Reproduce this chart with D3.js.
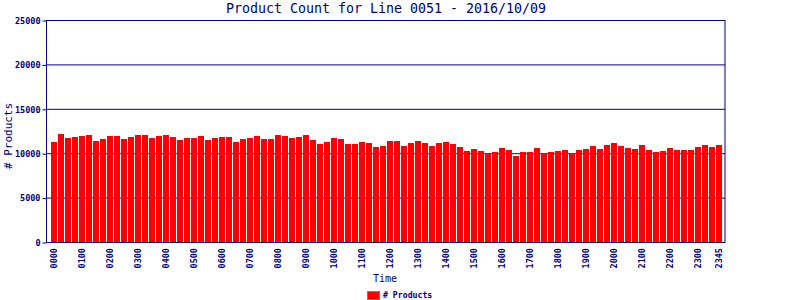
<!DOCTYPE html>
<html>
<head>
<meta charset="utf-8">
<script src="https://cdn.jsdelivr.net/npm/d3@7"></script>
<style>
  body { margin: 0; background: #fff; }
  text { font-family: "DejaVu Sans Mono", monospace; fill: #000080; }
</style>
</head>
<body>
<svg id="chart" width="800" height="300"></svg>
<script>
// product counts per 15 minute slot, 0000 .. 2345
var counts = [
  11260, 12160, 11710, 11820, 11940, 12050, 11370, 11600,
  11940, 11940, 11600, 11820, 12050, 12050, 11710, 11940,
  12050, 11820, 11490, 11710, 11710, 11940, 11490, 11710,
  11820, 11820, 11260, 11600, 11710, 11940, 11600, 11600,
  12050, 11940, 11710, 11820, 12050, 11490, 11040, 11260,
  11710, 11600, 11040, 11040, 11260, 11150, 10700, 10810,
  11370, 11370, 10810, 11150, 11370, 11150, 10810, 11150,
  11260, 11040, 10700, 10250, 10470, 10250, 10020, 10140,
  10590, 10360, 9690, 10140, 10140, 10590, 10020, 10140,
  10250, 10360, 10020, 10360, 10470, 10810, 10470, 10920,
  11150, 10810, 10590, 10470, 10920, 10360, 10140, 10250,
  10590, 10360, 10360, 10360, 10700, 10920, 10700, 10920
];
var times = counts.map(function(d, i) {
    var h = Math.floor(i / 4), m = (i % 4) * 15;
    return d3.format("02")(h) + d3.format("02")(m);
});
var labelTimes = times.filter(function(t, i) { return i % 4 == 0 || i == times.length - 1; });
var yTicks = [0, 5000, 10000, 15000, 20000, 25000];

var navy = "#000080";
var svg = d3.select("#chart");
var plotL = 47, plotR = 725, plotT = 20, plotB = 242;

var x = d3.scaleBand()
    .domain(times)
    .rangeRound([51, 723])
    .paddingInner(1 / 7)
    .align(0);
var y = d3.scaleLinear().domain([0, 25000]).range([plotB, plotT]);

// grid lines
svg.append("g").selectAll("line")
    .data(yTicks.slice(1)).enter()
    .append("line")
    .attr("x1", plotL).attr("x2", plotR)
    .attr("y1", d => y(d) + 0.5).attr("y2", d => y(d) + 0.5)
    .attr("stroke", navy);

// bars
svg.append("g").selectAll("rect")
    .data(counts).enter()
    .append("rect")
    .attr("x", (d, i) => x(times[i]))
    .attr("width", x.bandwidth())
    .attr("y", d => Math.round(y(d)))
    .attr("height", d => plotB - Math.round(y(d)))
    .attr("fill", "#ff0000");

// frame
svg.append("rect")
    .attr("x", plotL - 0.5).attr("y", plotT + 0.5)
    .attr("width", plotR - plotL + 0.5).attr("height", plotB - plotT)
    .attr("fill", "none").attr("stroke", navy);

// y axis
var yAxis = d3.axisLeft(y).tickValues(yTicks).tickSize(4).tickPadding(2).tickFormat(d3.format("d"));
var ya = svg.append("g").attr("transform", "translate(" + (plotL - 0.5) + ",0.5)").call(yAxis);
ya.select(".domain").remove();
ya.selectAll("line").attr("stroke", navy);
ya.selectAll("text").attr("font-size", 8.5).attr("font-weight", "bold")
    .attr("font-family", "DejaVu Sans Mono").attr("fill", navy).attr("dy", "0.32em");

// x axis labels
svg.append("g").selectAll("text")
    .data(labelTimes).enter()
    .append("text")
    .attr("transform", d => "translate(" + (x(d) + x.bandwidth() / 2 + 3) + "," + (plotB + 6) + ") rotate(-90)")
    .attr("text-anchor", "end")
    .attr("font-size", 8.5)
    .attr("font-weight", "bold")
    .text(d => d);

// title + axis titles
svg.append("text")
    .attr("x", (plotL + plotR) / 2).attr("y", 13)
    .attr("text-anchor", "middle").attr("font-size", 13.3)
    .text("Product Count for Line 0051 - 2016/10/09");

svg.append("text")
    .attr("transform", "translate(12,136) rotate(-90)")
    .attr("text-anchor", "middle").attr("font-size", 11)
    .text("# Products");

svg.append("text")
    .attr("x", 385).attr("y", 282)
    .attr("text-anchor", "middle").attr("font-size", 10)
    .text("Time");

// legend
svg.append("rect")
    .attr("x", 367.5).attr("y", 291.5).attr("width", 12).attr("height", 8)
    .attr("fill", "#ff0000").attr("stroke", "#808080");
svg.append("text")
    .attr("x", 383).attr("y", 298)
    .attr("font-size", 8.2).attr("font-weight", "bold")
    .text("# Products");
</script>
</body>
</html>
